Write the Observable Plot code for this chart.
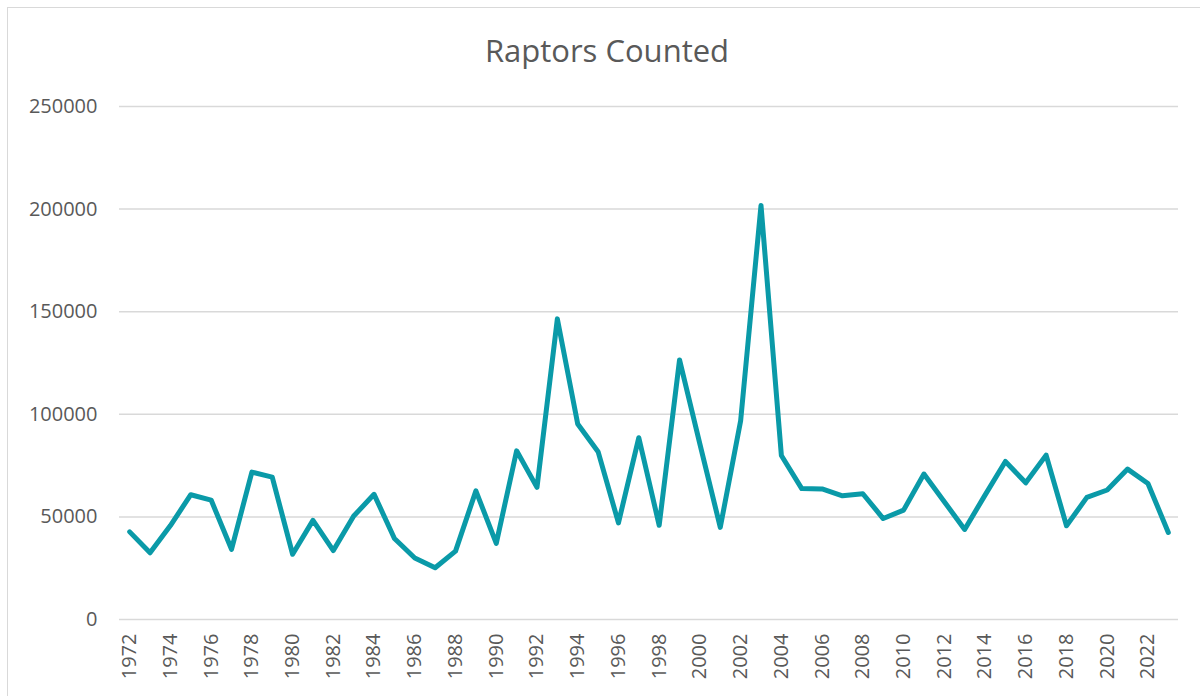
<!DOCTYPE html>
<html>
<head>
<meta charset="utf-8">
<script src="https://cdn.jsdelivr.net/npm/d3@7"></script>
<script src="https://cdn.jsdelivr.net/npm/@observablehq/plot@0.6"></script>
<style>
  html, body { margin: 0; padding: 0; background: #fff; width: 1200px; height: 696px; overflow: hidden; }
  #wrap { position: relative; width: 1200px; height: 696px; }
  #border { position: absolute; left: 7px; top: 7px; width: 1200px; height: 700px; border: 1.5px solid #d9d9d9; box-sizing: border-box; }
  #title { position: absolute; left: 0; top: 30px; width: 1214px; text-align: center; font-family: "Open Sans", sans-serif; font-size: 31px; color: #595959; line-height: 40px; }
  #chart { position: absolute; left: 0; top: 0; }
</style>
</head>
<body>
<div id="wrap">
  <div id="border"></div>
  <div id="title">Raptors Counted</div>
  <div id="chart"></div>
</div>
<script>
const years = [1972,1973,1974,1975,1976,1977,1978,1979,1980,1981,1982,1983,1984,1985,1986,1987,1988,1989,1990,1991,1992,1993,1994,1995,1996,1997,1998,1999,2000,2001,2002,2003,2004,2005,2006,2007,2008,2009,2010,2011,2012,2013,2014,2015,2016,2017,2018,2019,2020,2021,2022,2023];
const counts = [42700,32500,45800,60800,58200,34200,71800,69400,31800,48300,33600,50400,61000,39500,30000,25200,33300,62700,37100,82200,64400,146500,95300,81800,47100,88600,45900,126500,85500,44900,96900,201800,79900,63800,63600,60300,61300,49200,53300,70900,57400,43900,60600,77000,66600,80100,45700,59500,63100,73300,66300,42400];
const yTicks = [0,50000,100000,150000,200000,250000];
const xTicks = years.filter(y => (y - 1972) % 2 === 0 && y <= 2022);

const data = years.map((y, i) => ({year: y, count: counts[i]}));

const chart = Plot.plot({
  width: 1200,
  height: 696,
  marginTop: 106,
  marginBottom: 77,
  marginLeft: 119,
  marginRight: 22,
  style: {fontFamily: "'Open Sans', sans-serif", background: "transparent", color: "#595959"},
  x: {type: "linear", domain: [1971.5, 2023.5]},
  y: {domain: [0, 250000]},
  marks: [
    Plot.gridY(yTicks, {stroke: "#d9d9d9", strokeOpacity: 1, strokeWidth: 1.5}),
    Plot.axisY(yTicks, {tickSize: 0, tickPadding: 22, tickFormat: d => String(d), fontSize: 20, fill: "#595959", label: null}),
    Plot.axisX(xTicks, {tickSize: 0, tickPadding: 14, tickRotate: -90, tickFormat: d => String(d), fontSize: 20, fill: "#595959", label: null}),
    Plot.lineY(data, {x: "year", y: "count", stroke: "#0A9AA8", strokeWidth: 5, strokeLinejoin: "round", strokeLinecap: "round"})
  ]
});
document.getElementById("chart").appendChild(chart);
</script>
</body>
</html>
